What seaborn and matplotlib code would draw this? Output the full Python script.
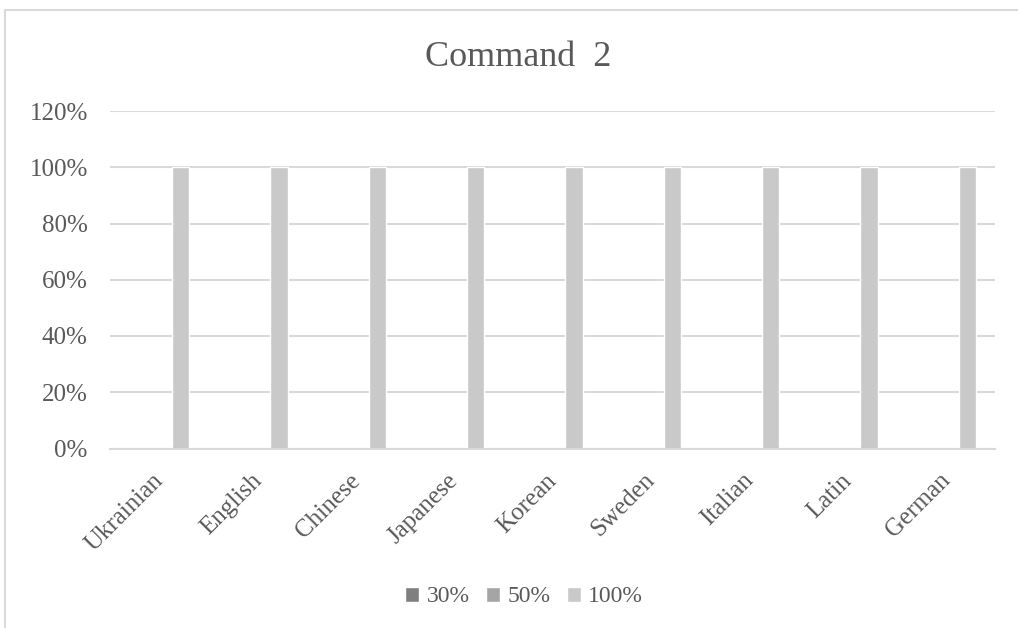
import matplotlib
matplotlib.use("Agg")
import matplotlib.pyplot as plt
from matplotlib.patches import Rectangle
from matplotlib.ticker import PercentFormatter
from matplotlib.transforms import ScaledTranslation
import seaborn as sns
import pandas as pd

# Chart data
languages = ["Ukrainian", "English", "Chinese", "Japanese", "Korean",
             "Sweden", "Italian", "Latin", "German"]
series_names = ["30%", "50%", "100%"]
values_30 = [0, 0, 0, 0, 0, 0, 0, 0, 0]
values_50 = [0, 0, 0, 0, 0, 0, 0, 0, 0]
values_100 = [1.0, 1.0, 1.0, 1.0, 1.0, 1.0, 1.0, 1.0, 1.0]
colors = ["#7f7f7f", "#a5a5a5", "#c9c9c9"]

df = pd.DataFrame({
    "language": languages * 3,
    "series": [s for s in series_names for _ in languages],
    "value": values_30 + values_50 + values_100,
})

sns.set_style("white")
plt.rcParams["font.family"] = ["Liberation Serif", "DejaVu Serif"]
text_color = "#595959"
grid_color = "#d9d9d9"

fig = plt.figure(figsize=(10.18, 6.28), dpi=100)
ax = fig.add_axes([110 / 1018, 1 - 448.5 / 628, 885 / 1018, 337.5 / 628])

sns.barplot(data=df, x="language", y="value", hue="series",
            hue_order=series_names, palette=colors, order=languages,
            width=0.656, gap=0.2, saturation=1, ax=ax, legend=True)

ax.set_ylim(0, 1.2)
ax.set_yticks([0, 0.2, 0.4, 0.6, 0.8, 1.0, 1.2])
ax.yaxis.set_major_formatter(PercentFormatter(1.0, decimals=0))
ax.set_xlabel("")
ax.set_ylabel("")
ax.grid(axis="y", color=grid_color, linewidth=1.5)
ax.set_axisbelow(True)
for side in ["top", "right", "left"]:
    ax.spines[side].set_visible(False)
ax.spines["bottom"].set_color(grid_color)
ax.spines["bottom"].set_linewidth(1.5)
ax.tick_params(axis="both", length=0, labelsize=18, colors=text_color)
ax.tick_params(axis="y", pad=16)
ax.tick_params(axis="x", pad=15)
shift_left = ScaledTranslation(-0.07, 0, fig.dpi_scale_trans)
for lbl in ax.get_xticklabels():
    lbl.set_rotation(45)
    lbl.set_ha("right")
    lbl.set_va("top")
    lbl.set_rotation_mode("anchor")
    lbl.set_transform(lbl.get_transform() + shift_left)

fig.text(518 / 1018, 1 - 57 / 628, "Command  2", ha="center", va="center",
         fontsize=26, color=text_color)

handles, labels = ax.get_legend_handles_labels()
ax.get_legend().remove()
fig.legend(handles, labels, loc="center", bbox_to_anchor=(524 / 1018, 1 - 597 / 628),
           ncol=3, frameon=False, fontsize=17, labelcolor=text_color,
           handlelength=0.6, handleheight=0.6, handletextpad=0.3,
           columnspacing=0.7)

# Chart area outline
fig.patches.append(Rectangle((5 / 1018, -0.1), 1.2, 1 - 10 / 628 + 0.1,
                             transform=fig.transFigure, fill=False,
                             edgecolor=grid_color, linewidth=1.5))

fig.savefig("out.png", dpi=100)
